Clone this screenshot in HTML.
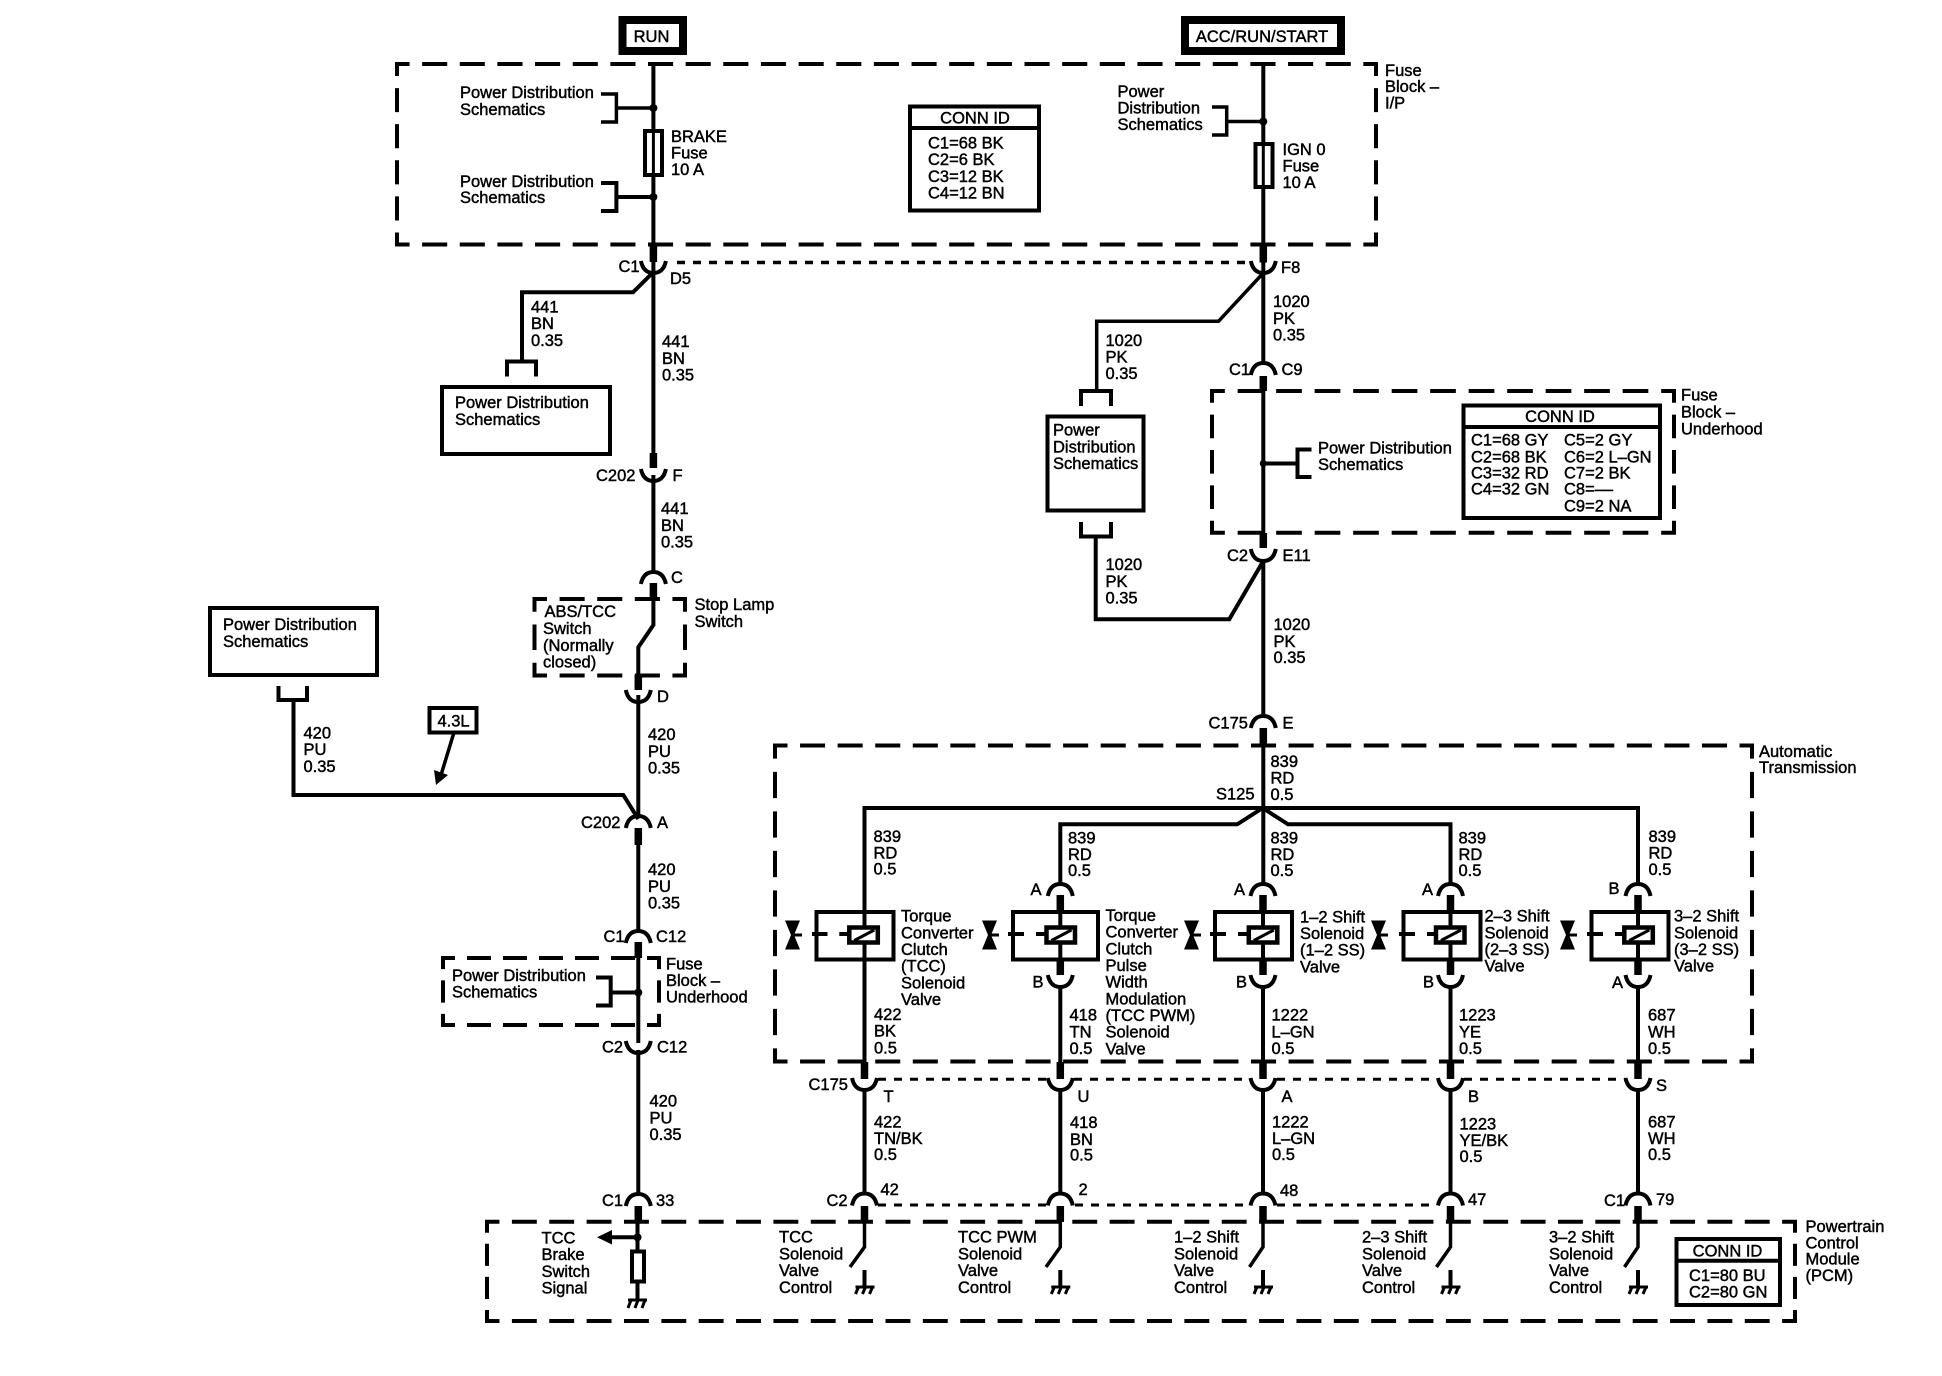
<!DOCTYPE html>
<html><head><meta charset="utf-8"><style>
html,body{margin:0;padding:0;background:#fff}
svg{display:block}
text{font-family:"Liberation Sans",Arial,sans-serif;font-size:16.5px;fill:#000;stroke:#000;stroke-width:.45px}
.m{text-anchor:middle}
.w{stroke:#000;stroke-width:4;fill:none}
.t{stroke:#000;stroke-width:7.5;fill:none}
.s{stroke:#000;stroke-width:4;fill:none}
.o{stroke:#000;stroke-width:3.500;fill:none;stroke-dasharray:8 8}
</style></head><body>
<svg width="1942" height="1376" viewBox="0 0 1942 1376" xmlns="http://www.w3.org/2000/svg">
<defs>
<path id="cup" d="M-12.500 0Q-10 12 0 12T12.500 0" fill="none" stroke="#000" stroke-width="4"/>
<path id="arch" d="M-12.500 11Q-10 -1 0 -1T12.500 11" fill="none" stroke="#000" stroke-width="4"/>
<g id="gnd" fill="none" stroke="#000"><path d="M0 0V17" stroke-width="4"/><path d="M-9 17H10" stroke-width="3"/><path d="M-6 17L-9 24M1 17L-2 24M8 17L5 24" stroke-width="3"/></g>
<g id="bow"><path d="M0 0H15L9 14.500L15 29H0L6 14.500Z" fill="#000"/><path d="M7 14.500H17" stroke="#000" stroke-width="3"/></g>
<g id="sol"><rect x="-29" y="-7.500" width="28.500" height="15" fill="#fff" stroke="#000" stroke-width="4.500"/><path d="M-24 5.500L-4 -5" stroke="#000" stroke-width="3"/></g>
</defs>
<rect width="1942" height="1376" fill="#fff"/>

<!-- dashed enclosures -->
<path class="s" stroke-dasharray="25.100 12.550" stroke-dashoffset="10.550" d="M395 64H1378M395 244.500H1378"/>
<path class="s" stroke-dasharray="24.070 12.030" stroke-dashoffset="12.030" d="M397 64V244.500M1376 64V244.500"/>
<path class="s" stroke-dasharray="25.670 12.830" stroke-dashoffset="10.830" d="M1210 391H1676M1210 532.700H1676"/>
<path class="s" stroke-dasharray="23.600 11.800" stroke-dashoffset="11.800" d="M1212 391V532.700M1674 391V532.700"/>
<path class="s" stroke-dasharray="25.080 12.540" stroke-dashoffset="10.540" d="M532.500 599H687M532.500 675.500H687"/>
<path class="s" stroke-dasharray="25.500 12.750" stroke-dashoffset="12.750" d="M534.500 599V675.500M685 599V675.500"/>
<path class="s" stroke-dasharray="24 12" stroke-dashoffset="10" d="M441 958H661M441 1025H661"/>
<path class="s" stroke-dasharray="22.330 11.170" stroke-dashoffset="11.170" d="M443 958V1025M659 958V1025"/>
<path class="s" stroke-dasharray="25.050 12.530" stroke-dashoffset="10.530" d="M773 745.500H1754M773 1061.500H1754"/>
<path class="s" stroke-dasharray="26.330 13.170" stroke-dashoffset="13.170" d="M775 745.500V1061.500M1752 745.500V1061.500"/>
<path class="s" stroke-dasharray="24.900 12.460" stroke-dashoffset="10.460" d="M485 1221.700H1797M485 1321H1797"/>
<path class="s" stroke-dasharray="22.070 11.030" stroke-dashoffset="11.030" d="M487 1221.700V1321M1795 1221.700V1321"/>

<!-- supply boxes -->
<rect x="622.500" y="20" width="60.500" height="31" fill="#fff" stroke="#000" stroke-width="8"/>
<text class="m" x="651.500" y="42">RUN</text>
<rect x="1185" y="20" width="156" height="31" fill="#fff" stroke="#000" stroke-width="8"/>
<text class="m" x="1262" y="42">ACC/RUN/START</text>

<!-- left main wire -->
<path class="w" d="M653.400 64V245M653.400 262V453M653.400 475V573M653.400 583V625L638.300 647.300V676M638.300 695V818M638.300 828V932M638.300 942V1043M638.300 1050V1195M638.300 1206V1221"/>
<path class="t" d="M653.400 244V262M653.400 453V468M653.400 583V600M638.300 675V690M638.300 828V845M638.300 942V958M638.300 1206V1222"/>
<path class="w" d="M637.500 1221V1300"/>
<use href="#cup" x="653.400" y="261"/><use href="#cup" x="653.400" y="469"/><use href="#arch" x="653.400" y="573"/><use href="#cup" x="638.300" y="690"/><use href="#arch" x="638.300" y="817"/><use href="#arch" x="638.300" y="932"/><use href="#cup" x="638.300" y="1041"/><use href="#arch" x="638.300" y="1195"/>

<!-- top-left fuse block -->
<circle cx="653.400" cy="108" r="4"/><circle cx="653.400" cy="197" r="4"/>
<path class="w" style="stroke-width:3.500" d="M601 94H616.400V122H601M616.400 108H652"/>
<path class="w" d="M601 183H616.400V211H601M616.400 197H652"/>
<rect x="645" y="131" width="17" height="44" fill="#fff" stroke="#000" stroke-width="4"/>
<path class="w" style="stroke-width:3" d="M653.400 130V176"/>
<text x="460" y="98">Power Distribution</text><text x="460" y="115">Schematics</text>
<text x="460" y="187">Power Distribution</text><text x="460" y="203">Schematics</text>
<text x="671" y="142">BRAKE</text><text x="671" y="158.500">Fuse</text><text x="671" y="175">10 A</text>
<rect x="910" y="106.500" width="129" height="104" fill="#fff" stroke="#000" stroke-width="4"/>
<path class="w" d="M910 128H1039"/>
<text class="m" x="975" y="123.500">CONN ID</text>
<text x="928" y="148.500">C1=68 BK</text><text x="928" y="165">C2=6 BK</text><text x="928" y="182">C3=12 BK</text><text x="928" y="198.500">C4=12 BN</text>
<path class="o" d="M677 262.500H1250"/>

<text x="618.500" y="272">C1</text><text x="670" y="284">D5</text>
<path class="w" d="M653.400 272L633 292.300H522V361"/>
<path class="w" d="M507 376.500V361.500H536V376.500"/>
<text x="531" y="312.500">441</text><text x="531" y="329">BN</text><text x="531" y="346">0.35</text>
<text x="662" y="347">441</text><text x="662" y="364">BN</text><text x="662" y="380.500">0.35</text>
<rect x="442" y="387" width="168" height="67" fill="#fff" stroke="#000" stroke-width="4"/>
<text x="455" y="408">Power Distribution</text><text x="455" y="425">Schematics</text>

<text x="596" y="481">C202</text><text x="672.500" y="481">F</text>
<text x="661" y="514">441</text><text x="661" y="531">BN</text><text x="661" y="547.500">0.35</text>
<text x="671" y="583">C</text>
<text x="544.500" y="617">ABS/TCC</text><text x="543" y="634">Switch</text><text x="543" y="651">(Normally</text><text x="543" y="667.500">closed)</text>
<text x="694.500" y="610">Stop Lamp</text><text x="694.500" y="627">Switch</text>
<text x="657" y="702">D</text>

<!-- left PD + 4.3L -->
<rect x="210" y="608" width="167" height="67" fill="#fff" stroke="#000" stroke-width="4"/>
<text x="223" y="630">Power Distribution</text><text x="223" y="647">Schematics</text>
<path class="w" d="M278.500 686V700H307V686"/>
<path class="w" d="M293.500 700V795H623.300L638.300 819"/>
<text x="303.500" y="738.500">420</text><text x="303.500" y="755">PU</text><text x="303.500" y="772">0.35</text>
<rect x="429.500" y="708" width="47" height="24.500" fill="#fff" stroke="#000" stroke-width="4"/>
<text class="m" x="453.500" y="726.500">4.3L</text>
<path class="w" style="stroke-width:3.500" d="M453.500 734L441 775"/>
<path d="M436 785L434 770L448 775Z" fill="#000"/>
<text x="648" y="740">420</text><text x="648" y="757">PU</text><text x="648" y="773.500">0.35</text>
<text x="581" y="828">C202</text><text x="657" y="828">A</text>
<text x="648" y="875">420</text><text x="648" y="892">PU</text><text x="648" y="908.500">0.35</text>
<text x="603.500" y="942">C1</text><text x="656" y="942">C12</text>
<text x="452" y="981">Power Distribution</text><text x="452" y="997.500">Schematics</text>
<path class="w" d="M596 977.500H610.700V1005.500H596M610.700 992.500H637"/>
<circle cx="638.300" cy="992.500" r="4"/>
<text x="666" y="969.500">Fuse</text><text x="666" y="986">Block –</text><text x="666" y="1002.500">Underhood</text>
<text x="602" y="1052.500">C2</text><text x="657" y="1052.500">C12</text>
<text x="649.500" y="1106.500">420</text><text x="649.500" y="1123.500">PU</text><text x="649.500" y="1140">0.35</text>
<text x="602" y="1206">C1</text><text x="656" y="1206">33</text>

<!-- right main wire -->
<path class="w" d="M1263.300 64V245M1263.300 262V364M1263.300 376V533M1263.300 562V717M1263.300 745V885"/>
<path class="t" d="M1263.300 244.500V262.500M1263.300 376V391M1263.300 533V548M1263.300 728V745"/>
<use href="#cup" x="1263.300" y="261"/><use href="#arch" x="1263.300" y="364"/><use href="#cup" x="1263.300" y="549"/><use href="#arch" x="1263.300" y="717"/>
<circle cx="1263.300" cy="121.500" r="4"/>
<path class="w" style="stroke-width:3.500" d="M1212 107H1226.700V135H1212M1226.700 121.500H1262"/>
<rect x="1255.500" y="144" width="17" height="43" fill="#fff" stroke="#000" stroke-width="4"/>
<path class="w" style="stroke-width:3" d="M1263.300 143V188"/>
<text x="1117.500" y="97">Power</text><text x="1117.500" y="113.500">Distribution</text><text x="1117.500" y="130">Schematics</text>
<text x="1282.500" y="155">IGN 0</text><text x="1282.500" y="171.500">Fuse</text><text x="1282.500" y="188">10 A</text>
<text x="1385" y="76">Fuse</text><text x="1385" y="92">Block –</text><text x="1385" y="108.500">I/P</text>
<text x="1281" y="273">F8</text>
<path class="w" style="stroke-width:3.500" d="M1263.300 273L1218.500 321.300H1096.700V391"/>
<path class="w" d="M1081 406V391H1111V406"/>
<text x="1273" y="307">1020</text><text x="1273" y="324">PK</text><text x="1273" y="340.500">0.35</text>
<text x="1105.500" y="346">1020</text><text x="1105.500" y="362.500">PK</text><text x="1105.500" y="379">0.35</text>
<text x="1229" y="375">C1</text><text x="1281.500" y="375">C9</text>
<rect x="1047.500" y="416.500" width="96" height="94" fill="#fff" stroke="#000" stroke-width="4"/>
<text x="1053" y="435.500">Power</text><text x="1053" y="452.500">Distribution</text><text x="1053" y="469">Schematics</text>
<path class="w" d="M1081 522V536.500H1111V522"/>
<path class="w" d="M1095.700 536V619.300H1229.300L1262.700 562"/>
<circle cx="1263.300" cy="463.500" r="3.500"/>
<path class="w" d="M1311.500 449.500H1297.500V477H1311.500M1297.500 463.500H1263"/>
<text x="1318" y="453.500">Power Distribution</text><text x="1318" y="470">Schematics</text>
<rect x="1463.500" y="405.500" width="196.500" height="112.500" fill="#fff" stroke="#000" stroke-width="4"/>
<path class="w" d="M1463.500 427H1660"/>
<text class="m" x="1560" y="422">CONN ID</text>
<text x="1471" y="445.500">C1=68 GY</text><text x="1471" y="462.500">C2=68 BK</text><text x="1471" y="478.500">C3=32 RD</text><text x="1471" y="494.500">C4=32 GN</text>
<text x="1564" y="445.500">C5=2 GY</text><text x="1564" y="462.500">C6=2 L–GN</text><text x="1564" y="478.500">C7=2 BK</text><text x="1564" y="494.500">C8=––</text><text x="1564" y="511.500">C9=2 NA</text>
<text x="1681" y="400.500">Fuse</text><text x="1681" y="417.500">Block –</text><text x="1681" y="434.500">Underhood</text>
<text x="1227" y="561">C2</text><text x="1282.500" y="561">E11</text>
<text x="1105.500" y="570">1020</text><text x="1105.500" y="587">PK</text><text x="1105.500" y="603.500">0.35</text>
<text x="1273.500" y="630">1020</text><text x="1273.500" y="647">PK</text><text x="1273.500" y="663">0.35</text>
<text x="1208.500" y="728.500">C175</text><text x="1282.500" y="728.500">E</text>

<!-- bus -->
<path class="w" d="M864.500 1062V808H1638V885"/>
<path class="w" d="M1060.300 885V824.300H1237.300L1262.700 808L1288 824.300H1450.500V885"/>
<text x="1270.500" y="767">839</text><text x="1270.500" y="783.500">RD</text><text x="1270.500" y="800">0.5</text>
<text x="1216" y="799.500">S125</text>
<text x="873.500" y="842">839</text><text x="873.500" y="858.500">RD</text><text x="873.500" y="874.500">0.5</text>
<text x="1068" y="843.500">839</text><text x="1068" y="860">RD</text><text x="1068" y="876">0.5</text>
<text x="1270.500" y="843.500">839</text><text x="1270.500" y="860">RD</text><text x="1270.500" y="876">0.5</text>
<text x="1458.500" y="843.500">839</text><text x="1458.500" y="860">RD</text><text x="1458.500" y="876">0.5</text>
<text x="1648.500" y="842">839</text><text x="1648.500" y="858.500">RD</text><text x="1648.500" y="875">0.5</text>
<text x="1759" y="757">Automatic</text><text x="1759" y="773">Transmission</text>

<!-- arches above solenoids -->
<use href="#arch" x="1060.300" y="885"/><use href="#arch" x="1263" y="885"/><use href="#arch" x="1450.500" y="885"/><use href="#arch" x="1638" y="885"/>
<path class="t" d="M1060.300 895V912M1263 895V912M1450.500 895V912M1638 895V912"/>
<text x="1030.500" y="895">A</text><text x="1234" y="895">A</text><text x="1422" y="895">A</text><text x="1608.500" y="894">B</text>

<!-- solenoid boxes -->
<rect x="816.500" y="912" width="77" height="47.500" fill="#fff" stroke="#000" stroke-width="4"/>
<rect x="1013" y="912" width="85" height="47.500" fill="#fff" stroke="#000" stroke-width="4"/>
<rect x="1215" y="912" width="77" height="47.500" fill="#fff" stroke="#000" stroke-width="4"/>
<rect x="1403.500" y="912" width="77" height="47.500" fill="#fff" stroke="#000" stroke-width="4"/>
<rect x="1591.500" y="912" width="77" height="47.500" fill="#fff" stroke="#000" stroke-width="4"/>
<path class="w" d="M864.500 912V960M1060.300 912V960M1263 912V960M1450.500 912V960M1638 912V960"/>
<g stroke="#000" stroke-width="4" fill="none">
<path d="M812 934H827.500M839.300 934H849"/>
<path d="M1008 934H1024M1036 934H1046"/>
<path d="M1210 934H1226M1238 934H1248"/>
<path d="M1399 934H1415M1427 934H1435"/>
<path d="M1587 934H1603M1615 934H1624"/>
</g>
<use href="#sol" x="878.300" y="935"/><use href="#sol" x="1075.500" y="935"/><use href="#sol" x="1277.800" y="935"/><use href="#sol" x="1465" y="935"/><use href="#sol" x="1653.300" y="935"/>
<use href="#bow" x="785" y="920.500"/><use href="#bow" x="982" y="920.500"/><use href="#bow" x="1184" y="920.500"/><use href="#bow" x="1371" y="920.500"/><use href="#bow" x="1560" y="920.500"/>

<!-- below solenoids -->
<path class="t" d="M1060.300 960V975M1263 960V975M1450.500 960V975M1638 960V975"/>
<use href="#cup" x="1060.300" y="975"/><use href="#cup" x="1263" y="975"/><use href="#cup" x="1450.500" y="975"/><use href="#cup" x="1638" y="975"/>
<path class="w" d="M1060.300 985V1062M1263 985V1062M1450.500 985V1062M1638 985V1062"/>
<text x="1032.500" y="987.500">B</text><text x="1236" y="987.500">B</text><text x="1423" y="987.500">B</text><text x="1612" y="988">A</text>

<text x="901" y="921.500">Torque</text><text x="901" y="938.500">Converter</text><text x="901" y="955">Clutch</text><text x="901" y="971.500">(TCC)</text><text x="901" y="988.500">Solenoid</text><text x="901" y="1005">Valve</text>
<text x="1105.500" y="921">Torque</text><text x="1105.500" y="937.500">Converter</text><text x="1105.500" y="954.500">Clutch</text><text x="1105.500" y="971">Pulse</text><text x="1105.500" y="987.500">Width</text><text x="1105.500" y="1004.500">Modulation</text><text x="1105.500" y="1021">(TCC PWM)</text><text x="1105.500" y="1037.500">Solenoid</text><text x="1105.500" y="1054.500">Valve</text>
<text x="1300" y="922.500">1–2 Shift</text><text x="1300" y="939">Solenoid</text><text x="1300" y="955.500">(1–2 SS)</text><text x="1300" y="972.500">Valve</text>
<text x="1484.500" y="921.500">2–3 Shift</text><text x="1484.500" y="938.500">Solenoid</text><text x="1484.500" y="955">(2–3 SS)</text><text x="1484.500" y="971.500">Valve</text>
<text x="1674" y="921.500">3–2 Shift</text><text x="1674" y="938.500">Solenoid</text><text x="1674" y="955">(3–2 SS)</text><text x="1674" y="971.500">Valve</text>

<text x="874" y="1020">422</text><text x="874" y="1036.500">BK</text><text x="874" y="1053.500">0.5</text>
<text x="1069.500" y="1020.500">418</text><text x="1069.500" y="1037.500">TN</text><text x="1069.500" y="1054">0.5</text>
<text x="1271.500" y="1020.500">1222</text><text x="1271.500" y="1037.500">L–GN</text><text x="1271.500" y="1054">0.5</text>
<text x="1459" y="1020.500">1223</text><text x="1459" y="1037.500">YE</text><text x="1459" y="1054">0.5</text>
<text x="1648" y="1020.500">687</text><text x="1648" y="1037.500">WH</text><text x="1648" y="1054">0.5</text>

<!-- C175 row -->
<path class="t" d="M864.500 1062V1079M1060.300 1062V1079M1263 1062V1079M1450.500 1062V1079M1638 1062V1079"/>
<use href="#cup" x="864.500" y="1078"/><use href="#cup" x="1060.300" y="1078"/><use href="#cup" x="1263" y="1078"/><use href="#cup" x="1450.500" y="1078"/><use href="#cup" x="1638" y="1078"/>
<path class="o" style="stroke-width:3" d="M878 1079.300H1047M1074 1079.300H1250M1277 1079.300H1437M1464 1079.300H1625"/>
<path class="w" d="M864.500 1089V1195M1060.300 1089V1195M1263 1089V1195M1450.500 1089V1195M1638 1089V1195"/>
<text x="808.500" y="1090">C175</text><text x="883.500" y="1102">T</text><text x="1077.500" y="1102">U</text><text x="1281.500" y="1102">A</text><text x="1468" y="1102">B</text><text x="1656" y="1091">S</text>
<text x="874" y="1127.500">422</text><text x="874" y="1144">TN/BK</text><text x="874" y="1160">0.5</text>
<text x="1070" y="1128">418</text><text x="1070" y="1145">BN</text><text x="1070" y="1160.500">0.5</text>
<text x="1272" y="1127.500">1222</text><text x="1272" y="1144">L–GN</text><text x="1272" y="1160">0.5</text>
<text x="1459.500" y="1129.500">1223</text><text x="1459.500" y="1146">YE/BK</text><text x="1459.500" y="1162">0.5</text>
<text x="1648" y="1127.500">687</text><text x="1648" y="1144">WH</text><text x="1648" y="1160">0.5</text>

<!-- PCM row -->
<use href="#arch" x="864.500" y="1194.500"/><use href="#arch" x="1060.300" y="1194.500"/><use href="#arch" x="1263" y="1194.500"/><use href="#arch" x="1450.500" y="1194.500"/><use href="#arch" x="1638" y="1194.500"/>
<path class="o" style="stroke-width:3" d="M878 1205H1046M1075 1205H1249M1277 1205H1437"/>
<path class="t" d="M864.500 1206V1222M1060.300 1206V1222M1263 1206V1222M1450.500 1206V1222M1638 1206V1222"/>
<text x="826.500" y="1206">C2</text><text x="880.500" y="1195">42</text><text x="1078.500" y="1195">2</text><text x="1280" y="1196">48</text><text x="1468" y="1205">47</text><text x="1604" y="1206">C1</text><text x="1656" y="1205">79</text>

<path class="w" style="stroke-width:3.500" d="M864.500 1222V1247L850 1267M1060.300 1222V1247L1046 1267M1263 1222V1247L1249.500 1267M1450.500 1222V1247L1436.500 1267M1638 1222V1247L1624.500 1267"/>
<use href="#gnd" x="864.500" y="1270"/><use href="#gnd" x="1060.300" y="1270"/><use href="#gnd" x="1263" y="1270"/><use href="#gnd" x="1450.500" y="1270"/><use href="#gnd" x="1638" y="1270"/>

<text x="541.500" y="1243.500">TCC</text><text x="541.500" y="1260">Brake</text><text x="541.500" y="1277">Switch</text><text x="541.500" y="1293.500">Signal</text>
<path d="M597 1237.300L612 1230V1244.500Z" fill="#000"/>
<path class="w" d="M610 1237.300H637"/><circle cx="637.500" cy="1237.300" r="4"/>
<rect x="632" y="1251.500" width="12" height="30" fill="#fff" stroke="#000" stroke-width="4"/>
<g fill="none" stroke="#000"><path d="M628 1300H647" stroke-width="3"/><path d="M631 1300L628 1308M638 1300L635 1308M645 1300L642 1308" stroke-width="3"/></g>

<text x="779" y="1242.500">TCC</text><text x="779" y="1259.500">Solenoid</text><text x="779" y="1276">Valve</text><text x="779" y="1293">Control</text>
<text x="958" y="1242.500">TCC PWM</text><text x="958" y="1259.500">Solenoid</text><text x="958" y="1276">Valve</text><text x="958" y="1293">Control</text>
<text x="1174" y="1242.500">1–2 Shift</text><text x="1174" y="1259.500">Solenoid</text><text x="1174" y="1276">Valve</text><text x="1174" y="1293">Control</text>
<text x="1362" y="1242.500">2–3 Shift</text><text x="1362" y="1259.500">Solenoid</text><text x="1362" y="1276">Valve</text><text x="1362" y="1293">Control</text>
<text x="1549" y="1242.500">3–2 Shift</text><text x="1549" y="1259.500">Solenoid</text><text x="1549" y="1276">Valve</text><text x="1549" y="1293">Control</text>

<rect x="1676.500" y="1239" width="103.500" height="66" fill="#fff" stroke="#000" stroke-width="4"/>
<path class="w" d="M1676.500 1260.700H1780"/>
<text class="m" x="1727.500" y="1256.500">CONN ID</text>
<text x="1689" y="1281">C1=80 BU</text><text x="1689" y="1297.500">C2=80 GN</text>
<text x="1805.500" y="1232">Powertrain</text><text x="1805.500" y="1248.500">Control</text><text x="1805.500" y="1264.500">Module</text><text x="1805.500" y="1281">(PCM)</text>
</svg>
</body></html>
